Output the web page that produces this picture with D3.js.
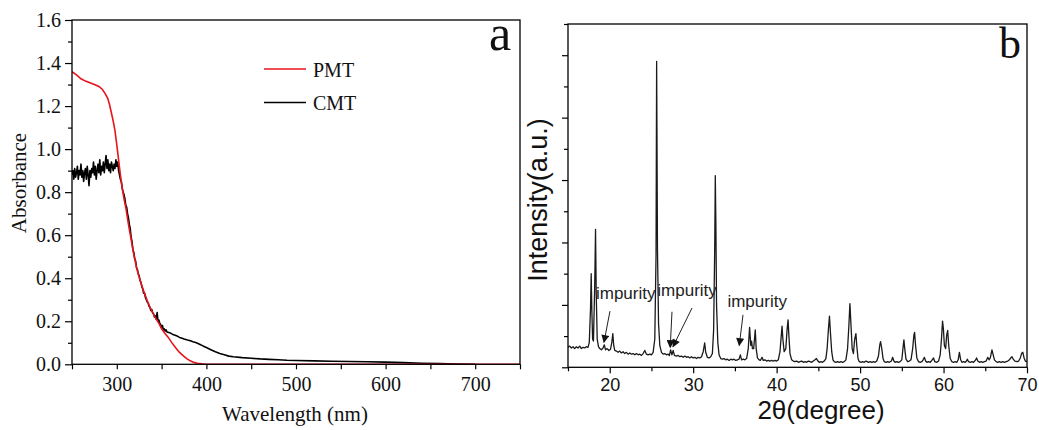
<!DOCTYPE html>
<html>
<head>
<meta charset="utf-8">
<script src="https://cdn.jsdelivr.net/npm/d3@7"></script>
<style>
  html, body { margin: 0; padding: 0; background: #fff; }
  svg { display: block; }
</style>
</head>
<body>
<svg id="chart" width="1039" height="430"></svg>
<script>
// ---------------- Panel a: UV-vis absorbance ----------------
const pmtData = [
  [250,1.36],[255,1.345],[260,1.327],[265,1.316],[270,1.308],[275,1.300],[280,1.291],
  [284,1.277],[287,1.258],[290,1.235],[292,1.205],[294,1.168],[296,1.130],[298,1.085],
  [300,1.020],[302,0.950],[304,0.880],[306,0.820],[308,0.770],[310,0.730],[313,0.650],
  [316,0.580],[319,0.510],[322,0.450],[326,0.390],[330,0.340],[334,0.295],[337,0.265],
  [340,0.240],[344,0.210],[347,0.190],[350,0.165],[354,0.142],[357.5,0.125],[361,0.103],
  [364,0.086],[367,0.070],[370,0.055],[374,0.040],[378,0.026],[382,0.016],[386,0.009],
  [390,0.005],[395,0.002],[400,0.0],[500,0.0],[600,0.0],[700,0.0],[750,0.0]
];
const cmtData = [
  [250,0.88],[251,0.90],[252,0.86],[253,0.91],[254,0.87],[255,0.89],[256,0.92],[257,0.86],
  [258,0.90],[259,0.88],[260,0.93],[261,0.87],[262,0.90],[263,0.85],[264,0.89],[265,0.91],
  [266,0.86],[267,0.92],[268,0.88],[269,0.83],[270,0.90],[271,0.87],[272,0.91],[273,0.89],
  [274,0.94],[275,0.88],[276,0.92],[277,0.86],[278,0.90],[279,0.93],[280,0.89],[281,0.95],
  [282,0.88],[283,0.92],[284,0.90],[285,0.94],[286,0.89],[287,0.93],[288,0.97],[289,0.91],
  [290,0.95],[291,0.90],[292,0.93],[293,0.89],[294,0.94],[295,0.92],[296,0.90],[297,0.93],
  [298,0.91],[299,0.95],[300,0.92],[301,0.94],[302,0.90],[303,0.88],[304,0.86],[305,0.85],
  [306,0.82],[307,0.80],[308,0.79],[309,0.77],[310,0.74],[311,0.73],[312,0.70],[313,0.68],
  [314,0.65],[315,0.63],[316,0.59],[317,0.57],[318,0.53],[319,0.52],[320,0.49],[321,0.48],
  [322,0.45],[323,0.44],[324,0.42],[325,0.41],[326,0.39],[327,0.38],[328,0.36],[329,0.35],
  [330,0.33],[331,0.33],[332,0.31],[333,0.30],[334,0.29],[335,0.285],[336,0.27],[337,0.265],
  [338,0.25],[339,0.255],[340,0.24],[341,0.235],[342,0.22],[343,0.225],[344,0.21],[345,0.24],
  [346,0.20],[347,0.205],[348,0.19],[349,0.185],[350,0.17],[351,0.18],[352,0.16],[353,0.165],
  [354,0.155],[355,0.16],[356,0.15],[358,0.148],[360,0.145],[362,0.140],[365,0.135],
  [368,0.130],[370,0.125],[373,0.121],[375,0.118],[378,0.114],[380,0.112],[383,0.108],
  [385,0.105],[388,0.101],[390,0.098],[393,0.092],[395,0.088],[398,0.082],[400,0.078],
  [405,0.068],[410,0.058],[415,0.050],[420,0.044],[425,0.038],[430,0.035],[440,0.031],
  [450,0.028],[460,0.025],[470,0.023],[480,0.021],[490,0.019],[500,0.018],[520,0.016],
  [540,0.014],[560,0.013],[580,0.012],[600,0.010],[620,0.008],[640,0.005],[660,0.003],
  [680,0.001],[700,0.0]
];
const seriesNames = ["PMT", "CMT"];
const seriesColors = ["#e8131b", "#000000"];
const aXLabelTicks = [300, 400, 500, 600, 700];
const aXAllTicks = [250, 300, 350, 400, 450, 500, 550, 600, 650, 700, 750];
const aYMajor = [0, 0.2, 0.4, 0.6, 0.8, 1.0, 1.2, 1.4, 1.6];
const aYMinor = [0.1, 0.3, 0.5, 0.7, 0.9, 1.1, 1.3, 1.5];

// ---------------- Panel b: XRD ----------------
const xrdData = [
  [15.0,0.32],[15.2,0.34],[15.4,0.31],[15.6,0.33],[15.8,0.30],[16.0,0.33],[16.2,0.31],[16.4,0.34],
  [16.6,0.30],[16.8,0.32],[17.0,0.31],[17.2,0.33],[17.4,0.32],[17.55,0.40],[17.7,0.95],[17.78,1.50],
  [17.86,0.90],[17.95,0.45],[18.05,0.42],[18.2,1.30],[18.3,2.21],[18.38,1.20],[18.5,0.45],[18.65,0.33],
  [18.8,0.30],[19.0,0.28],[19.2,0.31],[19.35,0.36],[19.5,0.28],[19.7,0.30],[19.9,0.27],[20.1,0.29],
  [20.25,0.40],[20.37,0.54],[20.48,0.35],[20.6,0.27],[20.8,0.26],[21.0,0.24],[21.2,0.26],[21.4,0.23],
  [21.6,0.25],[21.8,0.22],[22.0,0.24],[22.2,0.21],[22.4,0.23],[22.6,0.21],[22.8,0.22],[23.0,0.20],
  [23.2,0.22],[23.4,0.20],[23.6,0.21],[23.8,0.19],[24.0,0.22],[24.2,0.27],[24.4,0.21],[24.6,0.20],
  [24.8,0.21],[25.0,0.20],[25.2,0.24],[25.4,0.45],[25.55,1.80],[25.62,4.90],[25.66,3.80],[25.72,1.90],
  [25.85,0.70],[26.0,0.35],[26.2,0.24],[26.4,0.21],[26.6,0.22],[26.8,0.20],[27.0,0.21],[27.15,0.19],
  [27.3,0.28],[27.45,0.20],[27.6,0.27],[27.75,0.19],[28.0,0.18],[28.2,0.19],[28.4,0.17],[28.6,0.18],
  [28.8,0.16],[29.0,0.18],[29.2,0.16],[29.4,0.17],[29.6,0.15],[29.8,0.17],[30.0,0.15],[30.2,0.16],
  [30.4,0.14],[30.6,0.16],[30.8,0.15],[31.0,0.17],[31.2,0.25],[31.38,0.39],[31.5,0.24],[31.7,0.16],
  [31.9,0.15],[32.1,0.17],[32.3,0.22],[32.45,0.60],[32.58,1.90],[32.65,3.07],[32.72,2.30],[32.8,1.00],
  [32.95,0.40],[33.1,0.20],[33.3,0.14],[33.5,0.13],[33.7,0.14],[33.9,0.12],[34.1,0.13],[34.3,0.11],
  [34.5,0.13],[34.7,0.12],[34.9,0.13],[35.1,0.11],[35.3,0.12],[35.5,0.13],[35.65,0.20],[35.8,0.12],
  [36.0,0.13],[36.2,0.12],[36.4,0.14],[36.6,0.30],[36.76,0.64],[36.9,0.35],[37.0,0.42],[37.1,0.30],
  [37.25,0.30],[37.44,0.60],[37.55,0.30],[37.7,0.15],[37.9,0.12],[38.05,0.11],[38.25,0.16],[38.4,0.11],
  [38.6,0.12],[38.8,0.10],[39.0,0.11],[39.2,0.10],[39.4,0.11],[39.6,0.10],[39.8,0.11],[40.0,0.10],
  [40.2,0.12],[40.4,0.25],[40.55,0.50],[40.65,0.66],[40.75,0.45],[40.9,0.25],[41.1,0.30],[41.25,0.60],
  [41.37,0.76],[41.47,0.50],[41.6,0.22],[41.8,0.12],[42.0,0.10],[42.2,0.09],[42.4,0.10],[42.6,0.08],
  [42.8,0.09],[43.0,0.10],[43.2,0.08],[43.4,0.09],[43.6,0.08],[43.8,0.10],[44.0,0.09],[44.2,0.08],
  [44.4,0.10],[44.6,0.12],[44.77,0.14],[44.95,0.10],[45.1,0.08],[45.3,0.09],[45.5,0.08],[45.7,0.10],
  [45.9,0.14],[46.05,0.30],[46.2,0.60],[46.33,0.82],[46.45,0.55],[46.6,0.25],[46.75,0.12],[46.9,0.09],
  [47.1,0.08],[47.3,0.09],[47.5,0.08],[47.7,0.09],[47.9,0.08],[48.1,0.09],[48.3,0.12],[48.5,0.30],
  [48.65,0.65],[48.78,1.02],[48.9,0.70],[49.05,0.30],[49.2,0.22],[49.35,0.45],[49.5,0.54],[49.6,0.35],
  [49.75,0.14],[49.9,0.09],[50.1,0.08],[50.3,0.09],[50.5,0.08],[50.7,0.10],[50.85,0.09],[51.0,0.08],
  [51.2,0.09],[51.4,0.08],[51.6,0.09],[51.8,0.08],[52.0,0.10],[52.2,0.18],[52.35,0.35],[52.45,0.41],
  [52.6,0.30],[52.75,0.14],[52.9,0.09],[53.1,0.08],[53.3,0.09],[53.5,0.08],[53.75,0.10],[53.9,0.16],
  [54.05,0.10],[54.2,0.08],[54.4,0.09],[54.6,0.08],[54.8,0.09],[55.0,0.12],[55.15,0.32],[55.25,0.44],
  [55.35,0.30],[55.5,0.13],[55.7,0.09],[55.9,0.10],[56.1,0.12],[56.3,0.30],[56.45,0.52],[56.53,0.56],
  [56.65,0.35],[56.8,0.15],[57.0,0.09],[57.2,0.08],[57.4,0.09],[57.55,0.12],[57.7,0.16],[57.85,0.10],
  [58.0,0.08],[58.2,0.09],[58.4,0.08],[58.6,0.11],[58.8,0.15],[58.95,0.09],[59.2,0.08],[59.4,0.10],
  [59.6,0.20],[59.75,0.45],[59.88,0.74],[59.98,0.62],[60.1,0.35],[60.25,0.30],[60.38,0.52],[60.5,0.59],
  [60.62,0.35],[60.8,0.14],[61.0,0.09],[61.2,0.08],[61.4,0.09],[61.6,0.08],[61.75,0.12],[61.9,0.24],
  [62.05,0.12],[62.2,0.08],[62.4,0.09],[62.6,0.08],[62.75,0.10],[62.85,0.13],[63.0,0.09],[63.2,0.08],
  [63.4,0.09],[63.6,0.08],[63.8,0.11],[63.96,0.15],[64.1,0.10],[64.3,0.08],[64.5,0.09],[64.7,0.08],
  [64.9,0.09],[65.1,0.10],[65.3,0.16],[65.45,0.12],[65.6,0.15],[65.8,0.28],[65.95,0.20],[66.1,0.12],
  [66.3,0.09],[66.5,0.08],[66.7,0.09],[66.9,0.08],[67.1,0.09],[67.3,0.08],[67.5,0.09],[67.7,0.10],
  [67.9,0.12],[68.05,0.15],[68.2,0.17],[68.35,0.13],[68.55,0.10],[68.8,0.09],[69.0,0.10],[69.2,0.15],
  [69.35,0.22],[69.5,0.24],[69.65,0.15],[69.8,0.10],[70.0,0.09]
];
const bXLabelTicks = [20, 30, 40, 50, 60, 70];
const bXMinor = [15, 25, 35, 45, 55, 65];
const bYMajor = [0, 1, 2, 3, 4, 5];
const bYMinor = [0.5, 1.5, 2.5, 3.5, 4.5, 5.5];
// impurity annotations: label anchor (2θ, I) and arrows tail -> tip
const impurityLabels = [
  {text: "impurity", x: 18.35, y: 1.10},
  {text: "impurity", x: 25.70, y: 1.15},
  {text: "impurity", x: 34.10, y: 0.97}
];
const impurityArrows = [
  [20.03, 0.90, 19.31, 0.40],
  [27.46, 0.89, 27.25, 0.32],
  [29.86, 0.95, 27.58, 0.33],
  [35.97, 0.84, 35.52, 0.35]
];

// ================= drawing =================
const svg = d3.select("#chart");
svg.append("rect").attr("width", 1039).attr("height", 430).attr("fill", "#fff");

const serif = "'Liberation Serif','Times New Roman',Times,serif";
const sans = "'Liberation Sans',Arial,Helvetica,sans-serif";

// ---------- Panel a ----------
const ax = d3.scaleLinear().domain([250, 750]).range([72, 520]);
const ay = d3.scaleLinear().domain([0, 1.6]).range([364.3, 20]);
const gA = svg.append("g");

const defs = svg.append("defs");
defs.append("clipPath").attr("id", "clipA").append("rect")
  .attr("x", 72).attr("y", 20).attr("width", 448).attr("height", 344.3);
defs.append("clipPath").attr("id", "clipB").append("rect")
  .attr("x", 568).attr("y", 24).attr("width", 459).attr("height", 343.3);
defs.append("marker").attr("id", "arrowHead")
  .attr("viewBox", "0 0 10 10").attr("refX", 9).attr("refY", 5)
  .attr("markerWidth", 9).attr("markerHeight", 8).attr("markerUnits", "userSpaceOnUse")
  .attr("orient", "auto")
  .append("path").attr("d", "M0,0 L10,5 L0,10 z").attr("fill", "#111");

const lineA = d3.line().x(d => ax(d[0])).y(d => ay(d[1]));
gA.append("path").datum(cmtData).attr("d", lineA)
  .attr("fill", "none").attr("stroke", seriesColors[1]).attr("stroke-width", 1.6)
  .attr("stroke-linejoin", "round").attr("clip-path", "url(#clipA)");
gA.append("path").datum(pmtData).attr("d", lineA)
  .attr("fill", "none").attr("stroke", seriesColors[0]).attr("stroke-width", 1.6)
  .attr("clip-path", "url(#clipA)");

// axes a
const axA_x = gA.append("g").attr("transform", "translate(0,364.3)")
  .call(d3.axisBottom(ax).tickValues(aXAllTicks).tickSize(5).tickPadding(8)
    .tickFormat(d => aXLabelTicks.includes(d) ? String(d) : ""));
const axA_y = gA.append("g").attr("transform", "translate(72,0)")
  .call(d3.axisLeft(ay).tickValues(aYMajor).tickSize(7).tickPadding(4)
    .tickFormat(d3.format(".1f")));
const axA_ym = gA.append("g").attr("transform", "translate(72,0)")
  .call(d3.axisLeft(ay).tickValues(aYMinor).tickSize(4).tickFormat(""));
[axA_x, axA_y, axA_ym].forEach(g => {
  g.select(".domain").remove();
  g.selectAll("line").attr("stroke", "#000").attr("stroke-width", 1.2);
  g.selectAll("text").attr("font-family", serif).attr("font-size", 20).attr("fill", "#111");
});
gA.append("rect").attr("x", 72).attr("y", 20).attr("width", 448).attr("height", 344.3)
  .attr("fill", "none").attr("stroke", "#000").attr("stroke-width", 1.3);

gA.append("text").attr("x", 295).attr("y", 421).attr("text-anchor", "middle")
  .attr("font-family", serif).attr("font-size", 21).attr("fill", "#111")
  .text("Wavelength (nm)");
gA.append("text").attr("transform", "translate(26,183) rotate(-90)").attr("text-anchor", "middle")
  .attr("font-family", serif).attr("font-size", 21).attr("fill", "#111")
  .text("Absorbance");
gA.append("text").attr("x", 489).attr("y", 50)
  .attr("font-family", serif).attr("font-size", 50).attr("fill", "#111").text("a");

// legend
const legend = gA.append("g");
seriesNames.forEach((name, i) => {
  const y = 69 + i * 33.5;
  legend.append("line").attr("x1", 264).attr("x2", 306).attr("y1", y).attr("y2", y)
    .attr("stroke", seriesColors[i]).attr("stroke-width", 1.6);
  legend.append("text").attr("x", 313).attr("y", y + 7.5)
    .attr("font-family", serif).attr("font-size", 20).attr("fill", "#111").text(name);
});

// ---------- Panel b ----------
const bx = d3.scaleLinear().domain([15, 70]).range([568, 1027]);
const by = d3.scaleLinear().domain([0, 5.5]).range([367.3, 24]);
const gB = svg.append("g");

const lineB = d3.line().x(d => bx(d[0])).y(d => by(d[1]));
gB.append("path").datum(xrdData).attr("d", lineB)
  .attr("fill", "none").attr("stroke", "#1a1a1a").attr("stroke-width", 1.3)
  .attr("stroke-linejoin", "round").attr("clip-path", "url(#clipB)");

const axB_x = gB.append("g").attr("transform", "translate(0,367.3)")
  .call(d3.axisBottom(bx).tickValues(bXLabelTicks).tickSize(6).tickPadding(5)
    .tickFormat(d3.format("d")));
const axB_xm = gB.append("g").attr("transform", "translate(0,367.3)")
  .call(d3.axisBottom(bx).tickValues(bXMinor).tickSize(4).tickFormat(""));
const axB_y = gB.append("g").attr("transform", "translate(568,0)")
  .call(d3.axisLeft(by).tickValues(bYMajor).tickSize(6).tickFormat(""));
const axB_ym = gB.append("g").attr("transform", "translate(568,0)")
  .call(d3.axisLeft(by).tickValues(bYMinor).tickSize(4).tickFormat(""));
[axB_x, axB_xm, axB_y, axB_ym].forEach(g => {
  g.select(".domain").remove();
  g.selectAll("line").attr("stroke", "#000").attr("stroke-width", 1.2);
  g.selectAll("text").attr("font-family", sans).attr("font-size", 18).attr("fill", "#111");
});
gB.append("rect").attr("x", 568).attr("y", 24).attr("width", 459).attr("height", 343.3)
  .attr("fill", "none").attr("stroke", "#000").attr("stroke-width", 1.3);

gB.append("text").attr("x", 821).attr("y", 419).attr("text-anchor", "middle")
  .attr("font-family", sans).attr("font-size", 26).attr("fill", "#111")
  .text("2θ(degree)");
gB.append("text").attr("transform", "translate(547,200) rotate(-90)").attr("text-anchor", "middle")
  .attr("font-family", sans).attr("font-size", 27).attr("fill", "#111")
  .text("Intensity(a.u.)");
gB.append("text").attr("x", 999).attr("y", 58)
  .attr("font-family", serif).attr("font-size", 44).attr("fill", "#111").text("b");

impurityLabels.forEach(l => {
  gB.append("text").attr("x", bx(l.x)).attr("y", by(l.y))
    .attr("font-family", sans).attr("font-size", 17).attr("fill", "#222").text(l.text);
});
impurityArrows.forEach(a => {
  gB.append("line").attr("x1", bx(a[0])).attr("y1", by(a[1]))
    .attr("x2", bx(a[2])).attr("y2", by(a[3]))
    .attr("stroke", "#222").attr("stroke-width", 1)
    .attr("marker-end", "url(#arrowHead)");
});
</script>
</body>
</html>
